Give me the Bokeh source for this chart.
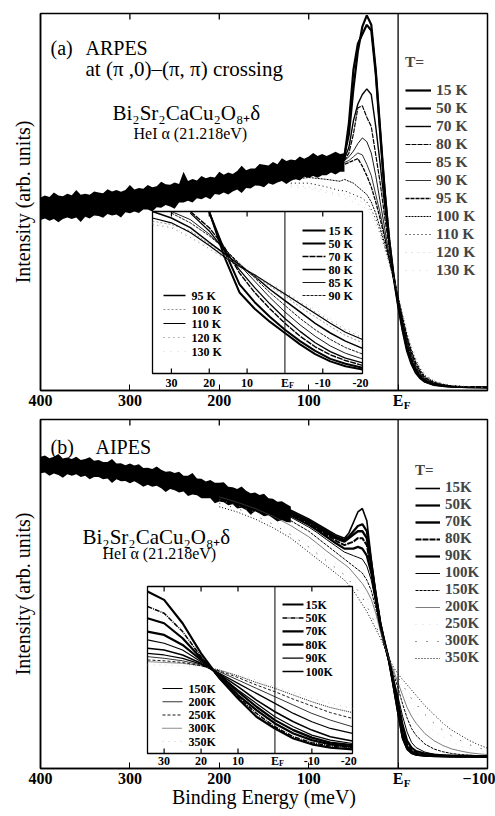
import numpy as np
from bokeh.plotting import figure
from bokeh.models import Range1d, LinearAxis, FixedTicker, Span, Legend, LegendItem, Label
from bokeh.layouts import column
from bokeh.embed import file_html
from bokeh.resources import INLINE
from bokeh.core.properties import value

nan = float("nan")
FONT = "Liberation Serif"

# ======================= DATA : panel (a) ARPES =======================
temps_a = ["15 K", "50 K", "70 K", "80 K", "85 K", "90 K", "95 K", "100 K", "110 K", "120 K", "130 K"]

bg_energy_a = list(range(400, 55, -5))
bg_upper_a = [51.2, 51.7, 51.3, 52.5, 51.7, 51.5, 52.2, 51.8, 53.2, 51.9, 52.2,
              51.9, 52.8, 52.5, 52.3, 53.4, 52.8, 53.2, 52.7, 53.2, 54.5,
              53.3, 53.7, 53.5, 54.5, 53.9, 54.2, 55.4, 54.7, 54.6, 55.2,
              54.8, 58.0, 55.6, 56.1, 55.7, 56.9, 56.3, 56.7, 56.5, 58.0,
              57.2, 57.8, 57.4, 58.2, 59.6, 58.4, 58.9, 58.9, 60.1, 59.9,
              59.7, 60.6, 60.0, 61.6, 60.9, 61.3, 61.1, 62.1, 61.5, 62.1,
              63.0, 62.2, 62.7, 62.2, 62.7, 63.3, 62.7, 62.9]
bg_lower_a = [45.2, 45.6, 45.0, 45.5, 44.6, 45.5, 45.9, 45.5, 45.9, 44.7, 46.1,
              45.6, 46.4, 46.3, 45.8, 46.8, 46.4, 46.7, 45.9, 47.3, 47.0,
              47.5, 47.1, 48.0, 48.0, 47.5, 48.6, 48.5, 49.2, 48.8, 48.2,
              49.9, 49.9, 50.3, 49.9, 51.0, 50.7, 51.3, 50.7, 52.1, 51.9,
              52.5, 52.0, 52.8, 53.3, 52.4, 53.7, 53.6, 54.4, 54.3, 53.9,
              55.0, 54.6, 55.2, 55.6, 54.8, 55.6, 56.1, 55.7, 56.7, 56.4,
              56.9, 56.4, 57.1, 57.1, 57.8, 57.3, 58.0, 58.0]

energy_a = [120, 100, 80, 65, 60, 55, 50, 45, 40, 35, 30, 25, 20, 15, 10, 5, 0,
            -5, -10, -15, -20, -25, -30, -40, -50, -60, -80, -100]
int_a_15 = [60.5, 61, 61.5, 61, 62.5, 68, 80, 90, 96.5, 99.5, 97, 85, 69, 53, 40, 30, 22.5,
            16, 10.5, 7, 4.6, 3.2, 2.3, 1.5, 1.2, 1.0, 0.9, 0.8]
int_a_50 = [60, 60.5, 61, 61.5, 62, 71, 85, 92, 94.5, 97, 95.5, 84, 68, 52.5, 40, 30.5, 23,
            16.5, 11, 7.4, 5, 3.4, 2.4, 1.6, 1.2, 1.0, 0.9, 0.8]
int_a_70 = [59.5, 60.5, 61, 60.5, 61.5, 64.5, 71.5, 76, 78.5, 80, 78.5, 70, 60, 49, 39, 30.5, 23.5,
            17, 11.8, 8, 5.4, 3.7, 2.6, 1.7, 1.3, 1.1, 0.9, 0.8]
int_a_80 = [59, 60, 61, 61.5, 61, 63, 68, 75, 75.5, 72.5, 70, 62.5, 55, 46, 38, 30.5, 24,
            17.5, 12.3, 8.5, 5.8, 4, 2.8, 1.8, 1.3, 1.1, 0.9, 0.8]
int_a_85 = [59, 59.5, 60, 60.5, 61, 62, 63.5, 65.5, 67, 66, 63, 57, 50, 43, 36, 30, 24,
            18, 13, 9, 6.2, 4.3, 3, 1.9, 1.4, 1.1, 0.9, 0.8]
int_a_90 = [58.5, 59.5, 60, 60, 60.5, 61, 62, 63, 62.5, 60, 57, 52, 47, 41, 35, 29.5, 24.5,
            18.5, 13.5, 9.5, 6.6, 4.6, 3.2, 2, 1.4, 1.1, 0.9, 0.8]
int_a_95 = [58, 59, 59.5, 59.5, 60, 60.5, 61, 61.5, 59.5, 57, 54, 50, 45.5, 40.5, 35, 29.5, 24.5,
            19, 14, 10, 7, 4.9, 3.4, 2.1, 1.5, 1.2, 0.9, 0.8]
int_a_100 = [56, 56.5, 56, 55.5, 56, 55.5, 55, 54, 53, 52, 50, 47, 43, 39, 34.5, 29.5, 25,
             19.5, 14.5, 10.5, 7.5, 5.3, 3.7, 2.3, 1.6, 1.2, 0.9, 0.8]
int_a_110 = [55, 55, 54, 53, 53, 52.5, 52, 51.5, 51, 50, 48, 45.5, 42, 38, 34, 29.5, 25,
             20, 15, 11, 8, 5.7, 4, 2.5, 1.7, 1.3, 1.0, 0.8]
int_a_120 = [54.5, 54, 53, 52, 52, 51.5, 51, 50.5, 50, 49, 47, 44.5, 41.5, 37.5, 33.5, 29.5, 25.5,
             20.5, 15.5, 11.5, 8.4, 6, 4.3, 2.7, 1.8, 1.3, 1.0, 0.8]
int_a_130 = [54, 53.5, 52.5, 51.5, 51, 50.5, 50, 49.5, 49, 48, 46.5, 44, 41, 37, 33.5, 29.5, 25.5,
             21, 16, 12, 8.8, 6.3, 4.5, 2.8, 1.9, 1.4, 1.0, 0.8]
curves_a = [int_a_15, int_a_50, int_a_70, int_a_80, int_a_85, int_a_90, int_a_95,
            int_a_100, int_a_110, int_a_120, int_a_130]

# inset (a): zoom on the E_F region
inset_energy_a = [35, 30, 25, 20, 16, 12, 8, 4, 0, -4, -8, -12, -16, -20.5]
ins_a_15 = [nan, nan, nan, 100, 72, 50, 40, 32, 25, 18, 12, 7.5, 4.5, 2.5]
ins_a_50 = [nan, nan, nan, 99.5, 76, 55, 44, 35, 27, 20, 14, 9, 6, 3.5]
ins_a_70 = [nan, nan, 100, 90, 78, 62, 50, 40, 31, 23, 16.5, 11.5, 8, 5]
ins_a_80 = [nan, nan, 99, 88, 76, 64, 53, 43, 34, 26, 19, 13.5, 9.5, 6.5]
ins_a_85 = [nan, 100, 95, 86, 77, 67, 57, 47, 38, 30, 23, 17, 12.5, 9]
ins_a_90 = [nan, 99, 93, 85, 77, 68, 59, 50, 42, 34, 27, 21, 16, 12]
ins_a_95 = [100, 96, 90, 81, 74, 67, 60, 52, 45, 38, 31, 25, 20, 15.5]
ins_a_100 = [94, 92, 88, 80, 73, 66, 60, 54, 48, 41, 35, 29, 23.5, 19]
ins_a_110 = [96, 93, 87, 79, 72, 66, 61, 55, 49, 43, 37, 31, 25.5, 21]
ins_a_120 = [92, 90, 84, 77, 71, 65, 60, 55, 50, 44, 38, 32.5, 27, 22]
ins_a_130 = [93, 91, 85, 78, 72, 67, 61, 56, 51, 45, 39.5, 34, 28.5, 23]
inset_curves_a = [ins_a_15, ins_a_50, ins_a_70, ins_a_80, ins_a_85, ins_a_90, ins_a_95,
                  ins_a_100, ins_a_110, ins_a_120, ins_a_130]

# ======================= DATA : panel (b) AIPES =======================
temps_b = ["15K", "50K", "70K", "80K", "90K", "100K", "150K", "200K", "250K", "300K", "350K"]

bg_energy_b = list(range(400, 115, -5))
bg_upper_b = [89.3, 89.7, 88.9, 89.3, 90.1, 88.8, 89.1, 88.7, 89.3, 88.4, 88.7,
              89.2, 88.2, 88.4, 87.8, 87.8, 88.7, 87.4, 87.5, 86.9, 87.4,
              86.8, 87.2, 86.1, 86.2, 85.8, 86.5, 85.6, 85.0, 85.2, 84.7,
              85.0, 83.9, 83.9, 84.7, 83.1, 83.0, 82.2, 82.7, 81.9, 81.9,
              82.0, 80.7, 80.6, 80.1, 80.8, 79.6, 78.9, 79.1, 78.4, 78.7,
              77.4, 77.3, 76.4, 76.6, 75.8, 75.1]
bg_lower_b = [84.6, 84.8, 83.9, 84.5, 84.1, 83.3, 84.3, 83.9, 84.3, 83.5, 83.9,
              82.9, 83.5, 83.5, 82.9, 83.1, 81.8, 82.9, 82.3, 82.4, 81.7,
              82.3, 81.6, 80.7, 81.3, 80.7, 81.0, 80.3, 79.2, 80.1, 79.7,
              79.1, 79.4, 78.1, 78.5, 78.3, 77.4, 77.4, 77.4, 76.0, 76.5,
              76.3, 75.4, 75.7, 74.5, 74.7, 74.1, 72.7, 73.7, 73.1, 72.3,
              72.6, 71.7, 70.8, 71.2, 70.6, 70.5]

energy_b = [200, 180, 160, 140, 120, 100, 90, 80, 70, 60, 55, 50, 45, 40, 35, 30, 25, 20, 15,
            10, 5, 0, -5, -10, -15, -20, -30, -40, -50, -60, -70, -80, -90, -100]
int_b_15 = [80, 79, 77.5, 76, 74, 71.5, 70, 68.5, 67, 66, 67.5, 70.5, 73.5, 74.5, 71, 60, 50, 42, 36,
            30.5, 23, 15.5, 8.5, 5.5, 4.3, 3.9, 3.6, 3.5, 3.5, 3.4, 3.4, 3.4, 3.3, 3.3]
int_b_50 = [79.5, 78.5, 77, 75.5, 73.5, 71, 69.5, 68, 66.5, 65.5, 66.5, 68, 69.5, 70, 68, 59, 50, 42, 36,
            30.5, 23.5, 16, 9, 5.8, 4.5, 4, 3.7, 3.6, 3.5, 3.5, 3.4, 3.4, 3.4, 3.4]
int_b_70 = [79.8, 78.6, 77.2, 75.4, 73.2, 70.6, 69, 67.5, 66, 65, 66, 67, 68, 68, 66, 58, 49.5, 41.5, 36,
            30.8, 24, 17, 10, 6.2, 4.8, 4.2, 3.8, 3.6, 3.6, 3.5, 3.5, 3.5, 3.4, 3.4]
int_b_80 = [79.2, 78, 76.6, 75, 72.8, 70.2, 68.6, 67, 65.3, 64, 64.5, 65, 66, 66, 64, 57, 49, 41.5, 35.5,
            30.8, 24.5, 18, 11, 7, 5.2, 4.5, 4, 3.8, 3.7, 3.6, 3.6, 3.5, 3.5, 3.5]
int_b_90 = [79.6, 78.3, 76.8, 74.8, 72.5, 69.8, 68.2, 66.4, 64.6, 63, 63, 63, 63.5, 63, 61, 56, 48.5, 41, 35.5,
            31, 25, 19, 12.5, 8, 6, 5, 4.3, 4, 3.8, 3.7, 3.6, 3.6, 3.5, 3.5]
int_b_100 = [79, 77.8, 76.2, 74.4, 72, 69.2, 67.5, 65.6, 63.8, 62, 61.5, 61, 60.5, 60, 58, 54, 47.5, 40.5, 35,
             31, 25.5, 20.5, 15, 10.5, 7.5, 6, 4.7, 4.1, 3.8, 3.7, 3.6, 3.6, 3.6, 3.6]
int_b_150 = [78.6, 77.2, 75.5, 73.5, 71, 68, 66, 64, 62, 60, 59, 58, 57, 56, 54, 51, 46, 40, 35,
             31, 27, 23, 18.5, 14.5, 11.5, 9.5, 7, 5.6, 4.8, 4.3, 4, 3.8, 3.7, 3.6]
int_b_200 = [77.8, 76.3, 74.5, 72.3, 69.6, 66.4, 64.4, 62.3, 60.4, 58.5, 57.5, 56, 54.5, 53, 51, 48.5, 44.5, 39.5, 35,
             31.3, 28, 24.5, 21, 17.5, 15, 13, 10, 8, 6.6, 5.6, 5, 4.5, 4.2, 4]
int_b_250 = [77, 75.4, 73.4, 71, 68.2, 64.8, 62.8, 60.8, 58.8, 57, 55.5, 54, 52.5, 51, 49, 46.5, 43, 39, 35,
             31.4, 28.5, 25.5, 22.5, 20, 18, 16, 13, 10.7, 9, 7.6, 6.5, 5.6, 5, 4.6]
int_b_300 = [76, 74.5, 72.5, 70, 67, 63.5, 61.5, 59.5, 57.5, 55.5, 54, 52.5, 51, 49, 46.5, 44, 41, 38, 35,
             31.5, 28.5, 26, 24, 22, 20, 18.5, 15.5, 13, 11, 9.3, 8, 6.8, 5.9, 5.2]
int_b_350 = [75, 73.5, 71.5, 69, 66, 62, 60, 58, 56, 54, 52.5, 51, 49, 47, 45, 42.5, 40, 37.5, 34.5,
             31.5, 29, 27, 25.5, 24, 22.5, 21, 18, 15.5, 13, 11, 9.5, 8, 6.8, 5.8]
curves_b = [int_b_15, int_b_50, int_b_70, int_b_80, int_b_90, int_b_100,
            int_b_150, int_b_200, int_b_250, int_b_300, int_b_350]

inset_energy_b = [34.5, 30, 25, 20, 15, 10, 5, 0, -5, -10, -15, -21]
ins_b_15 = [97, 92, 78, 60, 45, 33, 22, 15, 9, 5.5, 3.5, 2.5]
ins_b_50 = [88, 84, 73, 58, 45, 34, 24, 16, 10, 6.5, 4.5, 3.5]
ins_b_70 = [81, 78, 69, 57, 46, 35, 26, 18, 12, 8, 5.5, 4]
ins_b_80 = [73, 71, 65, 56, 47, 37, 28, 20, 14, 9.5, 6.5, 5]
ins_b_90 = [68, 66, 62, 55, 47, 38, 30, 22, 16, 11, 8, 6]
ins_b_100 = [63, 62, 59, 54, 47.5, 40, 32, 25, 19, 14, 10, 7.5]
ins_b_150 = [60, 59, 57, 53.5, 48, 42, 36, 30, 24, 19, 15, 12]
ins_b_200 = [58, 57, 55.5, 53, 49, 44, 39, 34, 29, 24, 20, 16]
ins_b_250 = [56, 55.5, 54.5, 52.5, 49.5, 45.5, 41, 37, 32.5, 28.5, 24.5, 21]
ins_b_300 = [55, 54.5, 54, 52.5, 50, 46.5, 42.5, 39, 35, 31, 27.5, 24.5]
ins_b_350 = [53, 53, 52.5, 52, 50, 47, 44, 40, 36.5, 33, 30, 27]
inset_curves_b = [ins_b_15, ins_b_50, ins_b_70, ins_b_80, ins_b_90, ins_b_100,
                  ins_b_150, ins_b_200, ins_b_250, ins_b_300, ins_b_350]

main_ticks_a = [400, 300, 200, 100, 0]
main_ticks_b = [400, 300, 200, 100, 0, -100]
top_ticks = [300, 200, 100]
inset_tick_values = [30, 20, 10, 0, -10, -20]
inset_tick_labels = ["30", "20", "10", "E", "-10", "-20"]
inset_minor_ticks = [30, 20, 10, -10]

# ======================= STYLES =======================
sty_a = [(2.2, "solid", "black"), (2.2, "solid", "black"), (1.4, "solid", "black"),
         (1.2, "5 1", "black"), (0.9, "solid", "black"), (0.8, "solid", "black"),
         (1.3, "4 1", "black"), (1.0, "2 1", "black"), (1.0, "1 3", "black"),
         (0.6, "1 5", "#aaaaaa"), (0.6, "1 6", "#bbbbbb")]
sty_ia = [(2.0, "solid", "black"), (2.0, "solid", "black"), (1.4, "6 1", "black"),
          (1.3, "solid", "black"), (0.9, "solid", "black"), (0.9, "3 1", "black"),
          (1.5, "solid", "black"), (0.8, "2 2", "#777777"), (1.2, "solid", "black"),
          (0.8, "1 4", "#555555"), (0.6, "1 6", "#bbbbbb")]
sty_b = [(1.6, "solid", "black"), (2.2, "solid", "black"), (2.4, "solid", "black"),
         (2.0, "6 1", "black"), (2.2, "solid", "black"), (1.0, "solid", "black"),
         (1.0, "3 1", "black"), (0.7, "solid", "#444444"), (0.5, "1 6", "#bbbbbb"),
         (1.0, "1 10", "#333333"), (1.0, "1 2", "black")]
sty_ib = [(2.2, "solid", "black"), (1.5, "5 1 1 1", "black"), (2.2, "solid", "black"),
          (2.2, "solid", "black"), (1.2, "solid", "black"), (1.6, "solid", "black"),
          (1.2, "solid", "black"), (0.8, "solid", "black"), (0.9, "3 2", "black"),
          (0.9, "1 1", "black"), (0.6, "1 5", "#aaaaaa")]

FW = 447  # frame width in px


def make_fig(fh, top, bottom, ticks):
    p = figure(frame_width=FW, frame_height=fh, x_range=Range1d(400, -100), y_range=Range1d(0, 100),
               output_backend="svg", toolbar_location=None,
               min_border_left=40, min_border_right=8, min_border_top=top, min_border_bottom=bottom)
    p.xgrid.visible = False
    p.ygrid.visible = False
    p.outline_line_color = "black"
    p.outline_line_width = 1.5
    xa = p.below[0]
    xa.ticker = FixedTicker(ticks=ticks)
    xa.major_label_overrides = {0: "E"}
    xa.major_tick_in = 6
    xa.major_tick_out = 0
    xa.minor_tick_line_color = None
    xa.major_label_standoff = 1
    xa.major_label_text_font = FONT
    xa.major_label_text_font_size = "16px"
    xa.major_label_text_font_style = "bold"
    xa.major_label_text_color = "black"
    xa.axis_line_width = 1.5
    ya = p.left[0]
    ya.ticker = FixedTicker(ticks=[])
    ya.axis_label = "Intensity (arb. units)"
    ya.axis_label_text_font = FONT
    ya.axis_label_text_font_size = "20px"
    ya.axis_label_text_font_style = "normal"
    ya.axis_label_text_color = "black"
    ya.axis_label_standoff = 7
    ya.major_tick_in = 0
    ya.major_tick_out = 0
    ya.minor_tick_line_color = None
    ya.axis_line_width = 1.5
    # subscript "F" of the E_F tick label, as a second (line-less) axis
    fax = LinearAxis(ticker=FixedTicker(ticks=[-10]), major_label_overrides={-10: "F"},
                     major_label_text_font=FONT, major_label_text_font_size="11px",
                     major_label_text_font_style="bold", major_label_text_color="black",
                     major_label_standoff=-13, major_tick_in=0, major_tick_out=0,
                     minor_tick_line_color=None, axis_line_color=None)
    p.add_layout(fax, "below")
    # inward top ticks
    tl = 6 * 100.0 / fh
    p.segment(x0=top_ticks, y0=[100] * 3, x1=top_ticks, y1=[100 - tl] * 3,
              line_color="black", line_width=1.3)
    p.add_layout(Span(location=0, dimension="height", line_color="black", line_width=1.3))
    return p, fax


def add_legend(p, rends, labels, loc, fsize, gw, standoff, spacing, title=None, tstand=0):
    items = [LegendItem(label=l, renderers=[r]) for l, r in zip(labels, rends)]
    kw = {}
    if title:
        kw = dict(title=title, title_text_font=FONT, title_text_font_size=fsize,
                  title_text_font_style="bold", title_standoff=tstand)
    leg = Legend(items=items, location=loc, label_text_font=FONT, label_text_font_size=fsize,
                 label_text_font_style="bold", glyph_width=gw, glyph_height=8, label_height=8,
                 label_standoff=standoff, spacing=spacing, padding=0, margin=0,
                 border_line_alpha=0, background_fill_alpha=0, **kw)
    p.add_layout(leg)


class Inset:
    """Inset drawn on extra ranges of the host figure; box given in frame px (l, t, r, b)."""

    def __init__(self, p, box, xr, fh, origin):
        self.p = p
        self.box = box
        self.xr = xr
        self.origin = origin
        l, t, r, b = box
        self.sx = (xr[1] - xr[0]) / (r - l)
        self.sy = 100.0 / (b - t)
        p.extra_x_ranges = {"ix": Range1d(xr[0] - l * self.sx, xr[0] + (FW - l) * self.sx)}
        p.extra_y_ranges = {"iy": Range1d(-(fh - b) * self.sy, 100 + t * self.sy)}
        self.kw = dict(x_range_name="ix", y_range_name="iy")

    def ex(self, page_x):
        return self.xr[0] + (page_x - self.origin[0] - self.box[0]) * self.sx

    def ey(self, page_y):
        return (self.box[3] - (page_y - self.origin[1])) * self.sy

    def draw(self, energy, curves, styles, label_dy):
        p, kw, xr, sy = self.p, self.kw, self.xr, self.sy
        p.quad(left=[xr[0]], right=[xr[1]], bottom=[0], top=[100], fill_color="white",
               line_color="black", line_width=1.3, **kw)
        p.segment(x0=[0], y0=[0], x1=[0], y1=[100], line_color="black", line_width=1, **kw)
        n = len(inset_minor_ticks)
        tl = 5 * sy
        p.segment(x0=inset_minor_ticks, y0=[0] * n, x1=inset_minor_ticks, y1=[tl] * n,
                  line_color="black", line_width=1.2, **kw)
        p.segment(x0=inset_minor_ticks, y0=[100] * n, x1=inset_minor_ticks, y1=[100 - tl] * n,
                  line_color="black", line_width=1.2, **kw)
        for vals, (w, d, c) in zip(curves, styles):
            p.line(energy, vals, line_color=c, line_width=w, line_dash=d, **kw)
        p.text(x=inset_tick_values, y=[0] * len(inset_tick_values), text=inset_tick_labels,
               y_offset=label_dy, text_font=value(FONT), text_font_size="12px",
               text_font_style="bold", text_align="center", text_baseline="middle",
               text_color="black", **kw)
        p.text(x=[0], y=[0], text=["F"], x_offset=4, y_offset=label_dy + 3,
               text_font=value(FONT), text_font_size="8px", text_font_style="bold",
               text_align="left", text_baseline="middle", text_color="black", **kw)

    def legend(self, labels, styles, x0, x1, xl, y_first, step):
        p, kw = self.p, self.kw
        ys = [self.ey(y_first + i * step) for i in range(len(labels))]
        for yv, (w, d, c) in zip(ys, styles):
            p.segment(x0=[self.ex(x0)], y0=[yv], x1=[self.ex(x1)], y1=[yv],
                      line_color=c, line_width=w, line_dash=d, **kw)
        p.text(x=[self.ex(xl)] * len(labels), y=ys, text=labels, text_font=value(FONT),
               text_font_size="12px", text_font_style="bold", text_align="left",
               text_baseline="middle", text_color="black", **kw)


def add_label(p, x, y, text, size, style="normal"):
    p.add_layout(Label(x=x, y=y, x_units="screen", y_units="screen", text=text,
                       text_font=FONT, text_font_size=size, text_font_style=style,
                       text_baseline="alphabetic", text_align="left", text_color="black"))


# ----------------------------- panel (a) -----------------------------
FH_A = 377
p1, fax1 = make_fig(FH_A, 13, 21, main_ticks_a)
p1.varea(x=bg_energy_a, y1=bg_lower_a, y2=bg_upper_a, fill_color="black")
rend_a = []
for vals, (w, d, c) in zip(curves_a, sty_a):
    rend_a.append(p1.line(energy_a, vals, line_color=c, line_width=w, line_dash=d))
ins1 = Inset(p1, (112, 198, 322, 360), (35, -20.5), FH_A, (40, 13))
ins1.draw(inset_energy_a, inset_curves_a, sty_ia, 9)
ins1.legend(temps_a[:6], sty_ia[:6], 302, 325, 328, 230, 13.0)
ins1.legend(temps_a[6:], sty_ia[6:], 163, 185, 191, 295, 14.0)
add_label(p1, 10, 343, "(a)", "20px")
add_label(p1, 45, 343, "ARPES", "20px")
add_label(p1, 45, 322, "at (π ,0)–(π, π) crossing", "21px")
add_label(p1, 72, 278, "Bi₂Sr₂CaCu₂O₈₊δ", "21px")
add_label(p1, 93, 257, "HeI α (21.218eV)", "16px")
add_legend(p1, rend_a, temps_a, (365, 111), "15.5px", 26, 5, -3, title="T=", tstand=10)

# ----------------------------- panel (b) -----------------------------
FH_B = 349
p2, fax2 = make_fig(FH_B, 6, 40, main_ticks_b)
fax2.axis_label = "Binding Energy (meV)"
fax2.axis_label_text_font = FONT
fax2.axis_label_text_font_size = "20px"
fax2.axis_label_text_font_style = "normal"
fax2.axis_label_text_color = "black"
fax2.axis_label_standoff = -6
p2.varea(x=bg_energy_b, y1=bg_lower_b, y2=bg_upper_b, fill_color="black")
rend_b = []
for vals, (w, d, c) in zip(curves_b, sty_b):
    rend_b.append(p2.line(energy_b, vals, line_color=c, line_width=w, line_dash=d))
ins2 = Inset(p2, (107, 167, 312, 334), (34.5, -21), FH_B, (40, 423))
ins2.draw(inset_energy_b, inset_curves_b, sty_ib, 7)
ins2.legend(temps_b[:6], sty_ib[:6], 282, 303, 305, 608, 13.4)
ins2.legend(temps_b[6:], sty_ib[6:], 162, 182, 188, 692, 13.25)
add_label(p2, 10, 322, "(b)", "20px")
add_label(p2, 55, 322, "AIPES", "20px")
add_label(p2, 42, 232, "Bi₂Sr₂CaCu₂O₈₊δ", "21px")
add_label(p2, 62, 215, "HeI α (21.218eV)", "16px")
add_legend(p2, rend_b, temps_b, (375, 102), "15px", 25, 5, -4, title="T=", tstand=-3)

layout = column(p1, p2)
open("out.html", "w").write(file_html(layout, INLINE, title="ARPES / AIPES"))
